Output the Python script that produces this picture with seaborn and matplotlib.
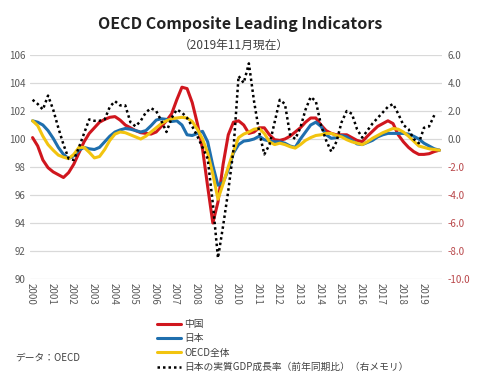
import numpy as np
import pandas as pd
import matplotlib
matplotlib.use("Agg")
import matplotlib.pyplot as plt
import seaborn as sns

# ---- data (quarterly, mid-quarter positions, 2000Q1 .. 2019Q4) ----
years = list(range(2000, 2020))
quarter_pos = [y + 0.125 + 0.25 * q for y in range(2000, 2020) for q in range(4)]

china = [100.1, 99.5, 98.5, 97.95, 97.65, 97.45, 97.25, 97.6, 98.2, 99.0,
         99.8, 100.4, 100.8, 101.2, 101.4, 101.55, 101.6, 101.35, 101.0, 100.8,
         100.6, 100.45, 100.4, 100.35, 100.5, 100.9, 101.3, 101.8, 102.8, 103.7,
         103.6, 102.6, 101.1, 99.3, 96.6, 94.0, 95.5, 98.2, 100.3, 101.2,
         101.3, 101.0, 100.4, 100.5, 100.8, 100.8, 100.3, 99.95, 99.9, 100.0,
         100.2, 100.5, 100.8, 101.2, 101.5, 101.5, 101.0, 100.6, 100.4, 100.3,
         100.3, 100.3, 100.1, 99.9, 99.8, 100.2, 100.55, 100.9, 101.1, 101.3,
         101.1, 100.3, 99.8, 99.4, 99.1, 98.9, 98.9, 98.95, 99.1, 99.2]

japan = [101.3, 101.2, 101.0, 100.6, 100.05, 99.4, 98.9, 98.6, 98.8, 99.2,
         99.4, 99.3, 99.25, 99.4, 99.8, 100.2, 100.5, 100.65, 100.75, 100.7,
         100.6, 100.5, 100.6, 100.95, 101.35, 101.45, 101.4, 101.25, 101.3, 101.0,
         100.3, 100.25, 100.4, 100.55, 99.8, 98.1, 96.7, 96.9, 97.8, 99.0,
         99.6, 99.85, 99.9, 100.0, 100.2, 99.95, 99.85, 99.8, 99.8, 99.7,
         99.5, 99.4, 100.0, 100.5, 101.0, 101.2, 100.9, 100.3, 100.05, 100.1,
         100.25, 100.15, 99.9, 99.65, 99.6, 99.75, 99.9, 100.15, 100.3, 100.4,
         100.4, 100.4, 100.4, 100.35, 100.2, 100.0, 99.7, 99.5, 99.3, 99.2]

oecd = [101.3, 100.95, 100.2, 99.6, 99.2, 98.85, 98.7, 98.6, 98.9, 99.4,
        99.4, 99.05, 98.65, 98.75, 99.25, 99.9, 100.35, 100.5, 100.45, 100.3,
        100.15, 100.0, 100.2, 100.5, 100.8, 101.1, 101.3, 101.45, 101.5, 101.55,
        101.5, 101.25, 100.7, 100.0, 99.0, 97.5, 95.7, 96.8, 98.0, 99.1,
        100.1, 100.35, 100.5, 100.7, 100.75, 100.4, 99.8, 99.6, 99.7, 99.6,
        99.45, 99.35, 99.6, 99.9, 100.1, 100.25, 100.3, 100.4, 100.4, 100.25,
        100.15, 99.95, 99.8, 99.7, 99.6, 99.8, 100.05, 100.25, 100.45, 100.6,
        100.75, 100.7, 100.5, 100.2, 99.85, 99.5, 99.4, 99.3, 99.25, 99.2]

gdp = [2.8, 2.5, 2.1, 3.1, 2.1, 0.8, -0.4, -1.4, -1.5, -0.6,
       0.4, 1.4, 1.3, 1.3, 1.4, 2.3, 2.7, 2.4, 2.4, 1.2,
       0.9, 1.3, 1.9, 2.2, 2.0, 1.3, 0.5, 1.5, 2.1, 1.9,
       1.5, 0.9, 0.2, -0.6, -1.4, -4.6, -8.5, -6.2, -3.7, -0.8,
       4.5, 4.0, 5.4, 2.7, 0.5, -1.1, -0.4, 1.2, 2.8, 2.5,
       0.3, 0.0, 0.8, 2.1, 3.0, 2.7, 1.0, -0.1, -0.9, -0.2,
       1.2, 2.0, 1.8, 0.7, 0.1, 0.6, 1.1, 1.5, 1.9, 2.3,
       2.5, 1.8, 1.0, 0.7, 0.0, -0.3, 0.8, 0.9, 1.7, np.nan]

labels = ["中国", "日本", "OECD全体", "日本の実質GDP成長率（前年同期比）（右メモリ）"]
colors = ["#d0161e", "#1f6fae", "#f2c40f", "#000000"]

df = pd.DataFrame({"t": quarter_pos, "cn": china, "jp": japan, "oecd": oecd, "gdp": gdp})

# ---- style ----
sns.set_style("white")
plt.rcParams["font.family"] = ["Noto Sans CJK JP", "DejaVu Sans"]

fig = plt.figure(figsize=(4.8, 3.87), dpi=100)
ax = fig.add_axes([30 / 480, 1 - 279 / 387, 412 / 480, 224 / 387])
ax2 = ax.twinx()

sns.lineplot(data=df, x="t", y="cn", ax=ax, color=colors[0], lw=2.2, label=labels[0], legend=False)
sns.lineplot(data=df, x="t", y="jp", ax=ax, color=colors[1], lw=2.2, label=labels[1], legend=False)
sns.lineplot(data=df, x="t", y="oecd", ax=ax, color=colors[2], lw=2.2, label=labels[2], legend=False)
sns.lineplot(data=df.dropna(), x="t", y="gdp", ax=ax2, color=colors[3], lw=1.8,
             linestyle=(0, (1, 1.2)), label=labels[3], legend=False)

ax.set_xlim(2000, 2020)
ax.set_ylim(90, 106)
ax2.set_ylim(-10, 6)
ax.set_yticks(range(90, 107, 2))
ax2.set_yticks(range(-10, 7, 2))
ax.set_yticklabels([str(v) for v in range(90, 107, 2)], fontsize=7, color="#595959")
ax2.set_yticklabels([f"{v:.1f}" for v in range(-10, 7, 2)], fontsize=7)
for lab, v in zip(ax2.get_yticklabels(), range(-10, 7, 2)):
    lab.set_color("#b9474a" if v < 0 else "#595959")

ax.set_xticks([y + 1 / 24 for y in years])
ax.set_xticklabels([str(y) for y in years], rotation=-90, fontsize=7, color="#595959")
ax.tick_params(axis="both", length=0, pad=3)
ax2.tick_params(axis="y", length=0, pad=4)
ax.set_xlabel("")
ax.set_ylabel("")
ax2.set_ylabel("")

ax.grid(axis="y", color="#d9d9d9", lw=0.9)
ax.set_axisbelow(True)
for a in (ax, ax2):
    for s in a.spines.values():
        s.set_visible(False)

fig.text(0.5, 1 - 24 / 387, "OECD Composite Leading Indicators", ha="center", va="center",
         fontsize=11.5, fontweight="bold", color="#222222")
fig.text(0.488, 1 - 45 / 387, "（2019年11月現在）", ha="center", va="center",
         fontsize=8.5, color="#404040")
fig.text(15 / 480, 1 - 358 / 387, "データ：OECD", ha="left", va="center", fontsize=7, color="#404040")

h1, l1 = ax.get_legend_handles_labels()
h2, l2 = ax2.get_legend_handles_labels()
fig.legend(h1 + h2, l1 + l2, loc="upper left", bbox_to_anchor=(157 / 480, 1 - 319 / 387),
           frameon=False, fontsize=7, handlelength=2.5, handletextpad=0.3,
           labelspacing=0.45, borderpad=0, borderaxespad=0, labelcolor="#404040")

fig.savefig("out.png", dpi=100, facecolor="white")
